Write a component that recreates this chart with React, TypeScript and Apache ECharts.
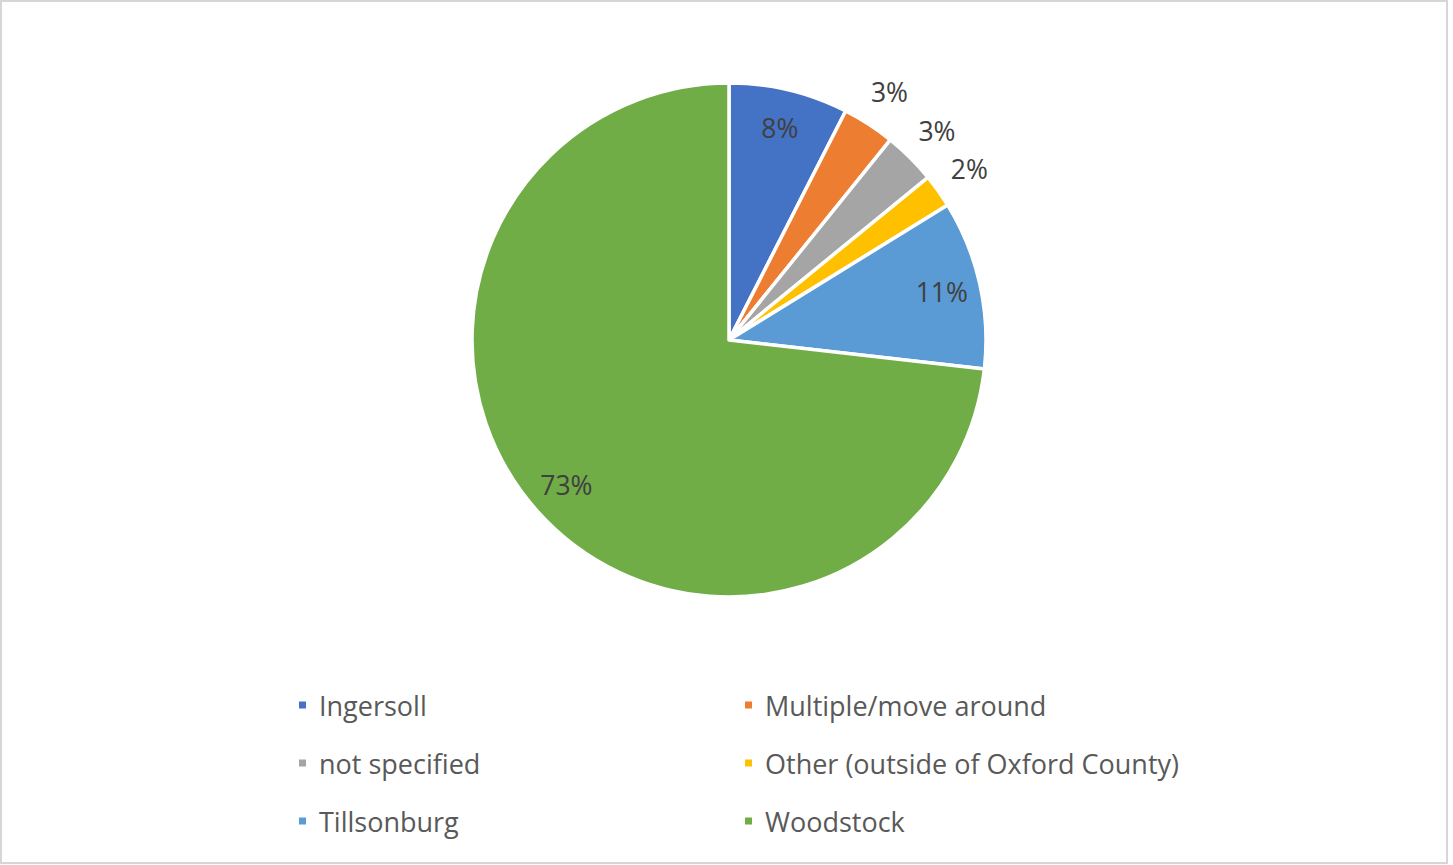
import React, { useEffect, useRef } from "react";
import * as echarts from "echarts";

const categories = [
  "Ingersoll",
  "Multiple/move around",
  "not specified",
  "Other (outside of Oxford County)",
  "Tillsonburg",
  "Woodstock",
];
const values = [7.5, 3.3, 3.3, 2.1, 10.6, 73.2];
const colors = ["#4472C4", "#ED7D31", "#A5A5A5", "#FFC000", "#5B9BD5", "#70AD47"];
const legendLeftColumn = ["Ingersoll", "not specified", "Tillsonburg"];
const legendRightColumn = ["Multiple/move around", "Other (outside of Oxford County)", "Woodstock"];

const FONT = "'Open Sans', 'Noto Sans', sans-serif";

export default function App() {
  const ref = useRef<HTMLDivElement>(null);
  useEffect(() => {
    if (!ref.current) return;
    const chart = echarts.init(ref.current, undefined, { renderer: "svg" });
    const total = values.reduce((a, b) => a + b, 0);
    const small = (v: number) => v / total < 0.05;
    const mainData = categories.map((name, i) => ({
      name,
      value: values[i],
      itemStyle: { color: colors[i] },
    }));
    const helperData = (showSmall: boolean) =>
      categories.map((name, i) => ({
        name,
        value: values[i],
        itemStyle: { color: "rgba(0,0,0,0)" },
        label: { show: small(values[i]) === showSmall },
      }));
    const labelStyle = {
      position: "inside" as const,
      formatter: "{d}%",
      color: "#404040",
      fontSize: 26.5,
      fontFamily: FONT,
    };
    const legendText = {
      color: "#595959",
      fontSize: 27,
      lineHeight: 30,
      fontFamily: FONT,
      padding: [0, 0, 0, 7],
    };
    const center = [729, 340];
    chart.setOption({
      animation: false,
      backgroundColor: "#ffffff",
      graphic: [
        {
          type: "rect",
          shape: { x: 1, y: 1, width: 1446, height: 862 },
          style: { fill: "none", stroke: "#d6d6d6", lineWidth: 2 },
          silent: true,
        },
      ],
      legend: [
        {
          data: legendLeftColumn,
          orient: "vertical",
          left: 297,
          top: 690,
          padding: 0,
          itemGap: 28,
          itemWidth: 9,
          itemHeight: 9,
          icon: "rect",
          textStyle: legendText,
        },
        {
          data: legendRightColumn,
          orient: "vertical",
          left: 743,
          top: 690,
          padding: 0,
          itemGap: 28,
          itemWidth: 9,
          itemHeight: 9,
          icon: "rect",
          textStyle: legendText,
        },
      ],
      series: [
        {
          type: "pie",
          center,
          radius: [0, 257],
          startAngle: 90,
          clockwise: true,
          data: mainData,
          label: { show: false },
          labelLine: { show: false },
          itemStyle: { borderColor: "#ffffff", borderWidth: 3.5 },
          emphasis: { disabled: true },
          silent: true,
        },
        {
          type: "pie",
          center,
          radius: [0, 430],
          startAngle: 90,
          clockwise: true,
          percentPrecision: 0,
          data: helperData(false),
          label: labelStyle,
          labelLine: { show: false },
          emphasis: { disabled: true },
          silent: true,
          z: 5,
        },
        {
          type: "pie",
          center,
          radius: [0, 584],
          startAngle: 90,
          clockwise: true,
          percentPrecision: 0,
          data: helperData(true),
          label: labelStyle,
          labelLine: { show: false },
          emphasis: { disabled: true },
          silent: true,
          z: 5,
        },
      ],
    });
    return () => chart.dispose();
  }, []);
  return (
    <div
      ref={ref}
      style={{ position: "fixed", left: 0, top: 0, width: 1453, height: 865 }}
    />
  );
}
